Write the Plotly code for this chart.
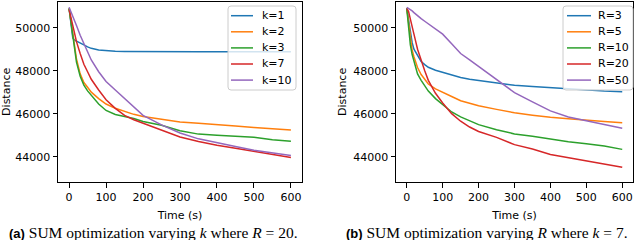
import plotly.graph_objects as go

# ---------------- data ----------------
time_s = [0, 5, 10, 15, 20, 30, 40, 50, 60, 80, 100, 125, 150, 175, 200,
          250, 300, 350, 400, 450, 500, 550, 600]

# (a) varying k, R = 20
k_labels = ["k=1", "k=2", "k=3", "k=7", "k=10"]
k1 = [50900, 50050, 49520, 49420, 49370, 49290, 49200, 49110, 49040, 48960, 48920, 48905,
      48895, 48890, 48885, 48885, 48885, 48885, 48885, 48885, 48885, 48882, 48880]
k2 = [50900, 50350, 49700, 49050, 48550, 47850, 47450, 47230, 47000, 46700, 46450, 46250,
      46100, 45970, 45870, 45740, 45610, 45560, 45510, 45430, 45360, 45300, 45240]
k3 = [50900, 50300, 49600, 48900, 48400, 47740, 47330, 47060, 46850, 46450, 46150, 45960,
      45870, 45780, 45640, 45460, 45210, 45050, 45000, 44960, 44900, 44790, 44720]
k7 = [50850, 50450, 50050, 49700, 49350, 48800, 48300, 47950, 47600, 47100, 46650, 46250,
      45920, 45720, 45560, 45230, 44920, 44710, 44530, 44390, 44245, 44110, 43960]
k10 = [50950, 50750, 50550, 50350, 50100, 49650, 49250, 48850, 48500, 47950, 47500, 47100,
       46700, 46300, 45920, 45480, 45100, 44830, 44640, 44470, 44300, 44180, 44060]

# (b) varying R, k = 7
r_labels = ["R=3", "R=5", "R=10", "R=20", "R=50"]
r3 = [50900, 50300, 49650, 49300, 49000, 48700, 48430, 48280, 48160, 48020, 47920, 47800,
      47680, 47600, 47540, 47450, 47320, 47260, 47200, 47140, 47090, 47050, 47020]
r5 = [50900, 50150, 49400, 48950, 48650, 48150, 47820, 47580, 47380, 47150, 46980, 46800,
      46600, 46480, 46370, 46200, 46040, 45930, 45830, 45770, 45720, 45640, 45580]
r10 = [50900, 50000, 49200, 48750, 48450, 47850, 47550, 47280, 47050, 46700, 46420, 46080,
       45850, 45660, 45490, 45250, 45060, 44950, 44810, 44700, 44600, 44500, 44340]
r20 = [50900, 50750, 50400, 50000, 49700, 49000, 48450, 48000, 47550, 46950, 46500, 46000,
       45650, 45380, 45170, 44900, 44560, 44360, 44100, 43960, 43810, 43680, 43510]
r50 = [50950, 50900, 50850, 50780, 50700, 50550, 50420, 50300, 50180, 49950, 49700, 49250,
       48800, 48500, 48200, 47600, 46980, 46550, 46130, 45850, 45680, 45500, 45320]

x_ticks = [0, 100, 200, 300, 400, 500, 600]
y_ticks = [44000, 46000, 48000, 50000]
colors = ["#1f77b4", "#ff7f0e", "#2ca02c", "#d62728", "#9467bd"]

W, H = 640, 240
fig = go.Figure()

for name, ys, c in zip(k_labels, [k1, k2, k3, k7, k10], colors):
    fig.add_trace(go.Scatter(x=time_s, y=ys, mode="lines", name=name,
                             line=dict(color=c, width=1.5), showlegend=False,
                             xaxis="x", yaxis="y"))
for name, ys, c in zip(r_labels, [r3, r5, r10, r20, r50], colors):
    fig.add_trace(go.Scatter(x=time_s, y=ys, mode="lines", name=name,
                             line=dict(color=c, width=1.5), showlegend=False,
                             xaxis="x2", yaxis="y2"))

font = dict(family="DejaVu Sans", size=11, color="black")
ax_common = dict(showline=True, mirror=True, linecolor="black", linewidth=1,
                 ticks="outside", ticklen=4.5, tickwidth=1, tickcolor="black",
                 showgrid=False, zeroline=False, tickfont=font, automargin=False)
yr = [42823, 51209]
xr = [-30, 630]

fig.update_layout(
    width=W, height=H, margin=dict(l=0, r=0, t=0, b=0, autoexpand=False),
    plot_bgcolor="white", paper_bgcolor="white", font=font,
    xaxis=dict(domain=[58 / W, 302 / W], range=xr, tickvals=x_ticks,
               title=dict(text="Time (s)", font=font, standoff=8), anchor="y", **ax_common),
    yaxis=dict(domain=[1 - 182 / H, 1 - 1.7 / H], range=yr, tickvals=y_ticks,
               tickformat="d",
               title=dict(text="Distance", font=font, standoff=4), anchor="x", **ax_common),
    xaxis2=dict(domain=[396 / W, 633 / W], range=xr, tickvals=x_ticks,
                title=dict(text="Time (s)", font=font, standoff=8), anchor="y2", **ax_common),
    yaxis2=dict(domain=[1 - 182 / H, 1 - 1.7 / H], range=yr, tickvals=y_ticks,
                tickformat="d",
                title=dict(text="Distance", font=font, standoff=4), anchor="x2", **ax_common),
)

shapes = []
annotations = []


def px(x):
    return x / W


def py(y):
    return 1 - y / H


def legend(x0, x1, y0, y1, labels, line_x0, line_x1, text_x, row_y0, row_dy):
    r = 3
    path = (f"M {px(x0 + r)} {py(y0)} L {px(x1 - r)} {py(y0)} "
            f"Q {px(x1)} {py(y0)} {px(x1)} {py(y0 + r)} "
            f"L {px(x1)} {py(y1 - r)} Q {px(x1)} {py(y1)} {px(x1 - r)} {py(y1)} "
            f"L {px(x0 + r)} {py(y1)} Q {px(x0)} {py(y1)} {px(x0)} {py(y1 - r)} "
            f"L {px(x0)} {py(y0 + r)} Q {px(x0)} {py(y0)} {px(x0 + r)} {py(y0)} Z")
    shapes.append(dict(type="path", xref="paper", yref="paper", path=path,
                       fillcolor="rgba(255,255,255,0.8)",
                       line=dict(color="#cccccc", width=1), layer="above"))
    for i, (lab, c) in enumerate(zip(labels, colors)):
        yy = row_y0 + i * row_dy
        shapes.append(dict(type="line", xref="paper", yref="paper",
                           x0=px(line_x0), x1=px(line_x1), y0=py(yy), y1=py(yy),
                           line=dict(color=c, width=1.5), layer="above"))
        annotations.append(dict(text=lab, xref="paper", yref="paper",
                                x=px(text_x), y=py(yy), xanchor="left", yanchor="middle",
                                showarrow=False, font=font))


legend(228, 296, 6, 90, k_labels, 231, 253, 260, 15.7, 16.1)
legend(563, 633, 6, 90, r_labels, 567, 591, 596, 15.7, 16.1)

cap_font = dict(family="Liberation Serif", size=15.5, color="black")
sans_b = "font-family:'Liberation Sans';font-weight:bold;font-size:13px"
annotations.append(dict(
    text=f"<span style=\"{sans_b}\">(a)</span> SUM optimization varying <i>k</i> where <i>R</i> = 20.",
    xref="paper", yref="paper", x=px(153), y=py(232), xanchor="center", yanchor="middle",
    showarrow=False, font=cap_font))
annotations.append(dict(
    text=f"<span style=\"{sans_b}\">(b)</span> SUM optimization varying <i>R</i> where <i>k</i> = 7.",
    xref="paper", yref="paper", x=px(487), y=py(232), xanchor="center", yanchor="middle",
    showarrow=False, font=cap_font))

fig.update_layout(shapes=shapes, annotations=annotations)
fig.write_html("out.html", config={"displayModeBar": False},
               post_script="document.body.style.margin='0';")
